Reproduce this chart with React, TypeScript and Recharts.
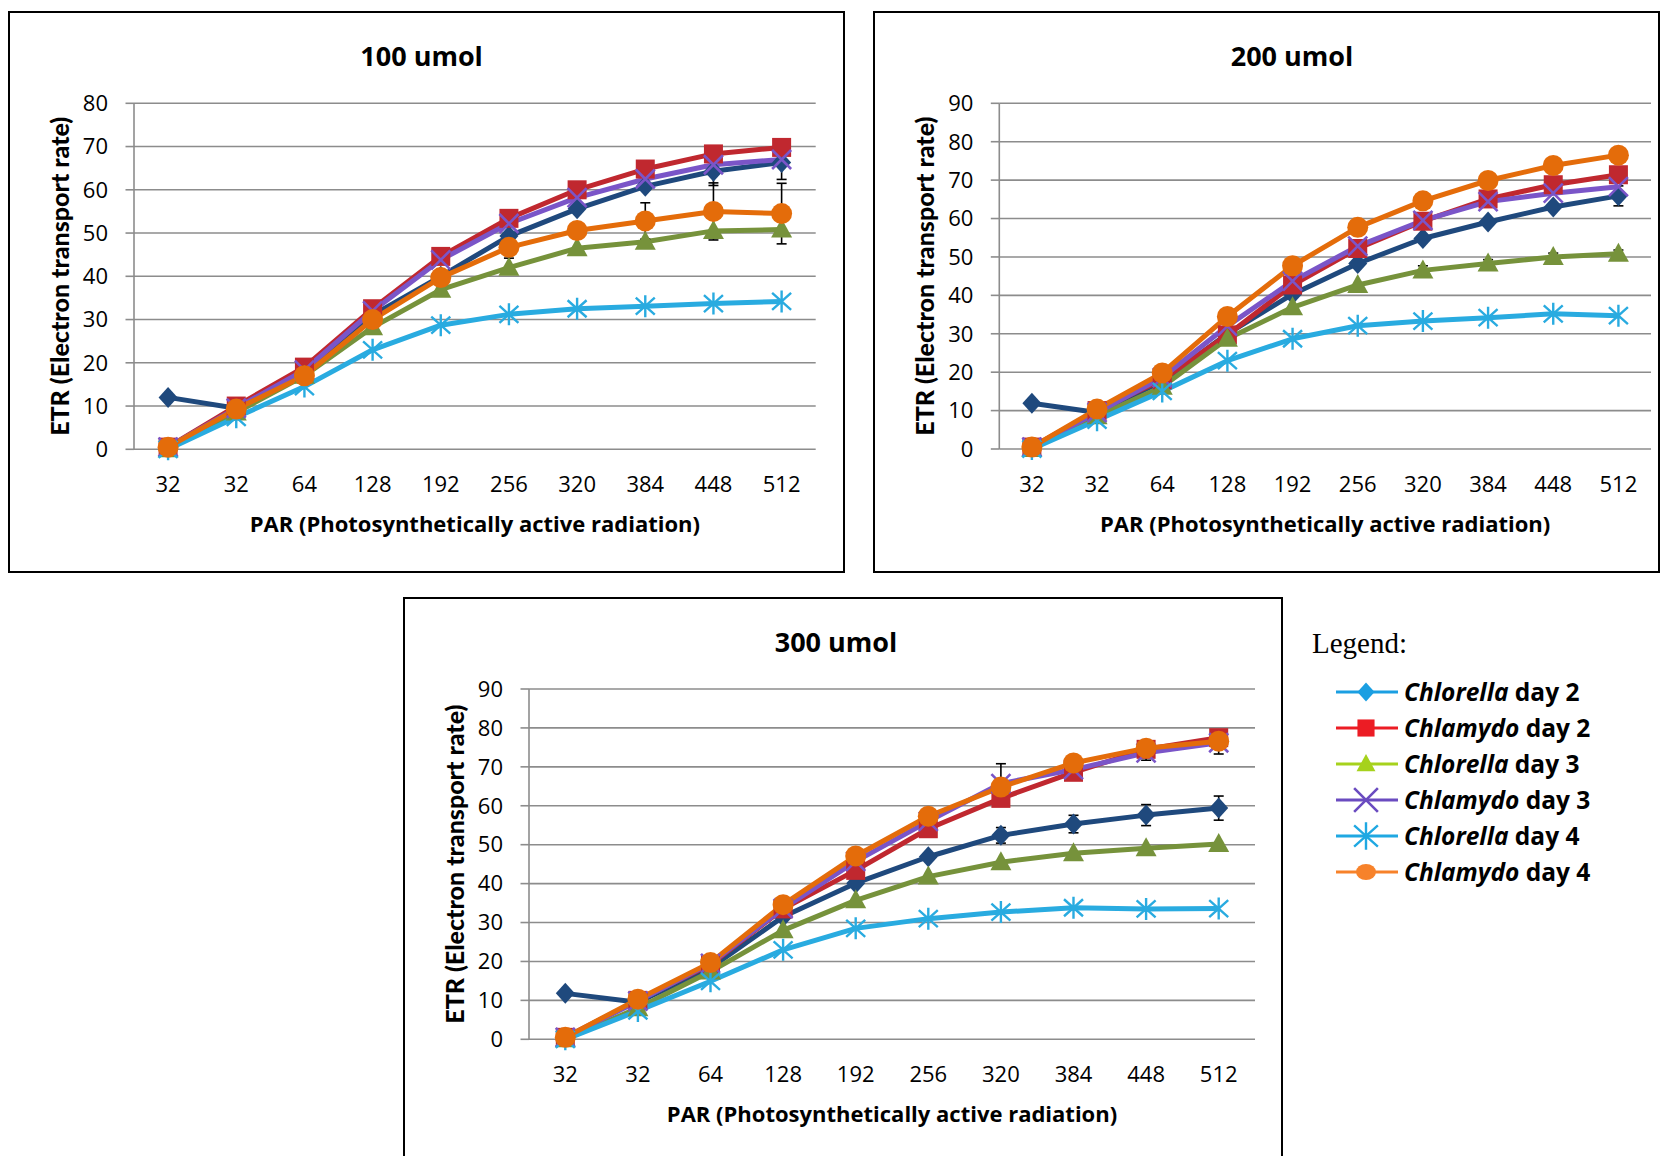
import { LineChart, Line, XAxis, YAxis, CartesianGrid, ErrorBar, Label } from 'recharts';

const parLabels = ['32', '32', '64', '128', '192', '256', '320', '384', '448', '512'];
const etrTicks80 = [0, 10, 20, 30, 40, 50, 60, 70, 80];
const etrTicks90 = [0, 10, 20, 30, 40, 50, 60, 70, 80, 90];

// 100 umol
const chlorellaD2At100 = [12, 9.5, 17.5, 31, 40, 49.3, 55.6, 60.8, 64.3, 66.3];
const chlamydoD2At100 = [0.5, 10, 19, 32.5, 44.6, 53.4, 60, 64.8, 68.3, 69.8];
const chlorellaD3At100 = [0, 8.5, 17, 28.2, 36.9, 42, 46.5, 48, 50.5, 50.8];
const chlamydoD3At100 = [0.5, 9.5, 18.3, 32, 43.8, 52.2, 58.2, 62.5, 65.8, 67];
const chlorellaD4At100 = [0, 7.4, 14.5, 23, 28.7, 31.2, 32.5, 33.1, 33.7, 34.2];
const chlamydoD4At100 = [0.5, 9.3, 17, 30, 39.7, 46.7, 50.6, 52.8, 55, 54.5];
const chlorellaD2ErrAt100 = [null, null, null, null, null, null, null, null, 3.3, 3.9];
const chlamydoD4ErrAt100 = [null, null, null, null, null, 2.5, null, 4.2, 6.6, 7];

// 200 umol
const chlorellaD2At200 = [11.9, 9.5, 17.6, 30, 40.3, 48.3, 54.8, 59.1, 63, 65.9];
const chlamydoD2At200 = [0.5, 10, 18, 29.7, 42.7, 52.2, 59.3, 65.1, 68.8, 71.4];
const chlorellaD3At200 = [0, 8.5, 16.2, 28.7, 36.9, 42.7, 46.5, 48.3, 50, 50.8];
const chlamydoD3At200 = [0.5, 9.5, 18.6, 32, 43.7, 52.8, 59.5, 64.4, 66.6, 68.3];
const chlorellaD4At200 = [0, 7.5, 15, 23, 28.7, 32.1, 33.3, 34.2, 35.2, 34.7];
const chlamydoD4At200 = [0.5, 10.4, 19.8, 34.5, 47.7, 57.7, 64.6, 69.9, 73.8, 76.5];
const chlorellaD2ErrAt200 = [null, null, null, null, null, null, null, null, null, 2.6];
const chlorellaD3ErrAt200 = [null, null, null, null, null, null, 1.2, 1, 1, 1];

// 300 umol
const chlorellaD2At300 = [11.8, 9.5, 18.3, 31.5, 40.1, 46.9, 52.4, 55.3, 57.6, 59.4];
const chlamydoD2At300 = [0.5, 10, 19.2, 33.5, 43.4, 54.1, 61.9, 68.6, 74.5, 77.5];
const chlorellaD3At300 = [0, 8, 17.4, 28, 35.7, 41.8, 45.5, 47.8, 49.1, 50.2];
const chlamydoD3At300 = [0.5, 9.8, 19.5, 33.6, 45.7, 56, 65.7, 69.3, 73.6, 76.2];
const chlorellaD4At300 = [0, 7.3, 14.9, 23, 28.5, 31, 32.7, 33.8, 33.5, 33.6];
const chlamydoD4At300 = [0.5, 10.3, 19.7, 34.6, 47.1, 57.3, 64.8, 71, 74.8, 76.6];
const chlorellaD2ErrAt300 = [null, null, null, null, null, null, 2, 2.25, 2.7, 3.1];
const chlamydoD3ErrAt300 = [null, null, null, null, null, null, 5.1, null, 1.9, 2.9];

type Shape = 'diamond' | 'square' | 'triangle' | 'cross' | 'star' | 'circle';

const series: { key: string; species: string; day: string; color: string; legendColor: string; shape: Shape }[] = [
  { key: 'chlorellaD2', species: 'Chlorella', day: ' day 2', color: '#1f497d', legendColor: '#1b9fe2', shape: 'diamond' },
  { key: 'chlamydoD2', species: 'Chlamydo', day: ' day 2', color: '#c0282f', legendColor: '#ec1c24', shape: 'square' },
  { key: 'chlorellaD3', species: 'Chlorella', day: ' day 3', color: '#76923b', legendColor: '#a6d21c', shape: 'triangle' },
  { key: 'chlamydoD3', species: 'Chlamydo', day: ' day 3', color: '#7a55c8', legendColor: '#6a4bc0', shape: 'cross' },
  { key: 'chlorellaD4', species: 'Chlorella', day: ' day 4', color: '#29abe0', legendColor: '#1fa8e2', shape: 'star' },
  { key: 'chlamydoD4', species: 'Chlamydo', day: ' day 4', color: '#e46c0a', legendColor: '#f7822a', shape: 'circle' },
];

const GRID = '#8c8c8c';
const SANS = '"Open Sans", "Liberation Sans", sans-serif';

function Marker({ shape, cx, cy, color, s = 1 }: { shape: Shape; cx: number; cy: number; color: string; s?: number }) {
  switch (shape) {
    case 'diamond':
      return <polygon points={`${cx},${cy - 10.5 * s} ${cx + 9.5 * s},${cy} ${cx},${cy + 10.5 * s} ${cx - 9.5 * s},${cy}`} fill={color} />;
    case 'square':
      return <rect x={cx - 9.5 * s} y={cy - 9.5 * s} width={19 * s} height={19 * s} fill={color} />;
    case 'triangle':
      return <polygon points={`${cx},${cy - 11 * s} ${cx + 10.5 * s},${cy + 8 * s} ${cx - 10.5 * s},${cy + 8 * s}`} fill={color} />;
    case 'cross':
      return (
        <path
          d={`M${cx - 9.5 * s},${cy - 9.5 * s}L${cx + 9.5 * s},${cy + 9.5 * s}M${cx - 9.5 * s},${cy + 9.5 * s}L${cx + 9.5 * s},${cy - 9.5 * s}`}
          stroke={color}
          strokeWidth={2.6}
        />
      );
    case 'star':
      return (
        <path
          d={`M${cx - 9.5 * s},${cy - 8.5 * s}L${cx + 9.5 * s},${cy + 8.5 * s}M${cx - 9.5 * s},${cy + 8.5 * s}L${cx + 9.5 * s},${cy - 8.5 * s}M${cx},${cy - 11 * s}L${cx},${cy + 11 * s}`}
          stroke={color}
          strokeWidth={2.4}
        />
      );
    default:
      return <circle cx={cx} cy={cy} r={10.5 * s} fill={color} />;
  }
}

function YTitle(props: any) {
  const vb = props.viewBox;
  const x = vb.x + vb.width - 75;
  const y = vb.y + vb.height / 2;
  return (
    <text
      x={x}
      y={y}
      transform={`rotate(-90, ${x}, ${y})`}
      textAnchor="middle"
      dominantBaseline="central"
      fontFamily="Lato, sans-serif"
      fontWeight="900"
      fontSize={25}
      fill="#000"
    >
      ETR (Electron transport rate)
    </text>
  );
}

function XTitle(props: any) {
  const vb = props.viewBox;
  return (
    <text
      x={vb.x + vb.width / 2}
      y={vb.y + 74}
      textAnchor="middle"
      dominantBaseline="central"
      fontFamily={SANS}
      fontWeight="bold"
      fontSize={22}
      fill="#000"
    >
      PAR (Photosynthetically active radiation)
    </text>
  );
}

interface PanelProps {
  title: string;
  values: number[][];
  errors: ((number | null)[] | null)[];
  yTicks: number[];
  left: number;
  top: number;
  width: number;
  height: number;
  margin: { top: number; right: number; bottom: number; left: number };
  titleX: number;
  titleY: number;
}

function EtrPanel({ title, values, errors, yTicks, left, top, width, height, margin, titleX, titleY }: PanelProps) {
  const rows = parLabels.map((label, i) => {
    const row: Record<string, any> = { pos: i + 0.5, label };
    series.forEach((s, k) => {
      row[s.key] = values[k][i];
      row[s.key + 'Err'] = errors[k] ? errors[k]![i] : null;
    });
    return row;
  });
  const centers = parLabels.map((_, i) => i + 0.5);
  const bounds = [...parLabels.map((_, i) => i), parLabels.length];

  return (
    <div style={{ position: 'absolute', left, top, width, height }}>
      <LineChart width={width} height={height} data={rows} margin={margin}>
        <CartesianGrid vertical={false} stroke={GRID} strokeWidth={1.6} />
        <XAxis
          xAxisId="frame"
          type="number"
          dataKey="pos"
          domain={[0, parLabels.length]}
          ticks={bounds}
          tick={false}
          tickSize={8.5}
          tickLine={{ stroke: GRID, strokeWidth: 1.6 }}
          axisLine={{ stroke: GRID, strokeWidth: 1.6 }}
          height={0}
        />
        <XAxis
          type="number"
          dataKey="pos"
          domain={[0, parLabels.length]}
          ticks={centers}
          interval={0}
          tickFormatter={(v: number) => parLabels[Math.floor(v)]}
          axisLine={false}
          tickLine={false}
          tickSize={0}
          tickMargin={27}
          height={100}
          tick={{ fontSize: 22, fill: '#000', fontFamily: SANS }}
        >
          <Label content={<XTitle />} />
        </XAxis>
        <YAxis
          type="number"
          domain={[0, yTicks[yTicks.length - 1]]}
          ticks={yTicks}
          interval={0}
          width={90}
          tickSize={8.5}
          tickMargin={17.5}
          tickLine={{ stroke: GRID, strokeWidth: 1.6 }}
          axisLine={{ stroke: GRID, strokeWidth: 1.6 }}
          tick={{ fontSize: 22, fill: '#000', fontFamily: SANS }}
        >
          <Label content={<YTitle />} />
        </YAxis>
        {series.map((s, k) => (
          <Line
            key={s.key}
            type="linear"
            dataKey={s.key}
            stroke={s.color}
            strokeWidth={5}
            strokeLinejoin="round"
            isAnimationActive={false}
            activeDot={false}
            dot={(p: any) => <Marker key={`${s.key}-${p.index}`} shape={s.shape} cx={p.cx} cy={p.cy} color={s.color} />}
          >
            {errors[k] && (
              <ErrorBar dataKey={s.key + 'Err'} stroke="#000" strokeWidth={1.6} width={5} isAnimationActive={false} />
            )}
          </Line>
        ))}
      </LineChart>
      <div
        style={{
          position: 'absolute',
          left: titleX - left,
          top: titleY - top,
          transform: 'translate(-50%, -50%)',
          fontFamily: SANS,
          fontWeight: 'bold',
          fontSize: 27,
          lineHeight: '32px',
          whiteSpace: 'nowrap',
        }}
      >
        {title}
      </div>
      <div style={{ position: 'absolute', inset: 0, border: '2px solid #000', boxSizing: 'border-box', pointerEvents: 'none' }} />
    </div>
  );
}

function SeriesLegend() {
  return (
    <div style={{ position: 'absolute', left: 1312, top: 625 }}>
      <div style={{ fontFamily: '"Liberation Serif", serif', fontSize: 29, lineHeight: '36px', color: '#000' }}>Legend:</div>
      <div style={{ position: 'absolute', left: 22, top: 49 }}>
        {series.map((s) => (
          <div key={s.key} style={{ display: 'flex', alignItems: 'center', height: 36 }}>
            <svg width={66} height={30} style={{ flex: 'none' }}>
              <line x1={2} y1={15} x2={64} y2={15} stroke={s.legendColor} strokeWidth={3} />
              {s.shape === 'circle' ? (
                <ellipse cx={32} cy={15} rx={10} ry={8} fill={s.legendColor} />
              ) : (
                <Marker shape={s.shape} cx={32} cy={15} color={s.legendColor} s={s.shape === 'cross' || s.shape === 'star' ? 1.25 : 0.9} />
              )}
            </svg>
            <span style={{ fontFamily: SANS, fontWeight: 'bold', fontSize: 24.5, lineHeight: '36px', whiteSpace: 'nowrap', marginLeft: 4 }}>
              <i>{s.species}</i>
              {s.day}
            </span>
          </div>
        ))}
      </div>
    </div>
  );
}

export default function App() {
  return (
    <div style={{ position: 'fixed', left: 0, top: 0, width: 1663, height: 1156, overflow: 'hidden', background: '#fff' }}>
      <EtrPanel
        title="100 umol"
        values={[chlorellaD2At100, chlamydoD2At100, chlorellaD3At100, chlamydoD3At100, chlorellaD4At100, chlamydoD4At100]}
        errors={[chlorellaD2ErrAt100, null, null, null, null, chlamydoD4ErrAt100]}
        yTicks={etrTicks80}
        left={8}
        top={11}
        width={837}
        height={562}
        margin={{ top: 92.3, right: 29.3, bottom: 23.7, left: 36 }}
        titleX={421.6}
        titleY={56}
      />
      <EtrPanel
        title="200 umol"
        values={[chlorellaD2At200, chlamydoD2At200, chlorellaD3At200, chlamydoD3At200, chlorellaD4At200, chlamydoD4At200]}
        errors={[chlorellaD2ErrAt200, null, chlorellaD3ErrAt200, null, null, null]}
        yTicks={etrTicks90}
        left={873}
        top={11}
        width={787}
        height={562}
        margin={{ top: 92.3, right: 9, bottom: 24, left: 36.3 }}
        titleX={1292}
        titleY={56}
      />
      <EtrPanel
        title="300 umol"
        values={[chlorellaD2At300, chlamydoD2At300, chlorellaD3At300, chlamydoD3At300, chlorellaD4At300, chlamydoD4At300]}
        errors={[chlorellaD2ErrAt300, null, null, chlamydoD3ErrAt300, null, null]}
        yTicks={etrTicks90}
        left={403}
        top={597}
        width={880}
        height={600}
        margin={{ top: 92, right: 28, bottom: 57.7, left: 36 }}
        titleX={836}
        titleY={642}
      />
      <SeriesLegend />
    </div>
  );
}
